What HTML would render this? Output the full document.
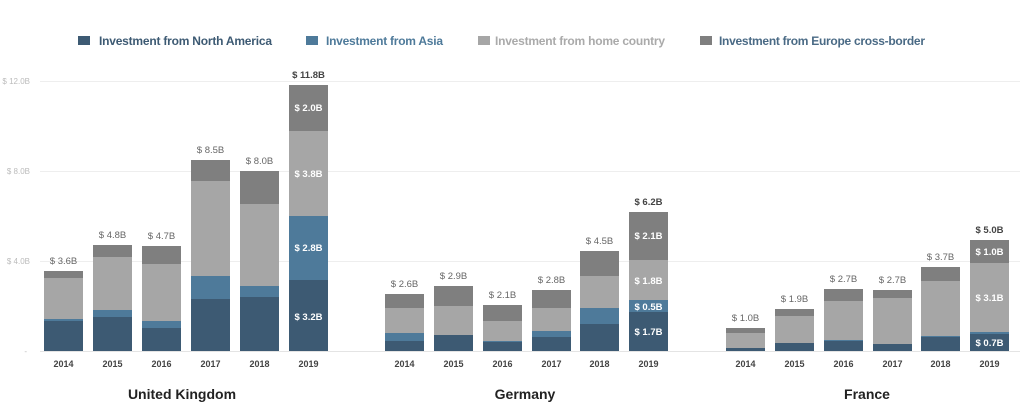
<!DOCTYPE html>
<html><head><meta charset="utf-8"><style>
html,body{margin:0;padding:0;background:#fff;}
svg{display:block;font-family:"Liberation Sans",sans-serif;}
.yl{font-size:8px;fill:#bbb;text-anchor:end}
.tot{font-size:9.5px;fill:#666;text-anchor:middle}
.in{font-size:9.5px;fill:#fff;font-weight:bold;text-anchor:middle}
.yr{font-size:9px;fill:#444;font-weight:bold;text-anchor:middle}
.ct{font-size:14px;fill:#222;font-weight:bold;text-anchor:middle}
.lg{font-size:12px;font-weight:bold}
.na{fill:#3d5a73}.as{fill:#4e7a9a}.hm{fill:#a6a6a6}.eu{fill:#7f7f7f}
</style></head><body>
<svg width="1024" height="412" viewBox="0 0 1024 412">
<!-- legend -->
<rect x="78" y="36" width="12" height="9" class="na"/><text x="99" y="45" class="lg" fill="#3d5a73" textLength="173">Investment from North America</text>
<rect x="306" y="36" width="12" height="9" class="as"/><text x="326" y="45" class="lg" fill="#4e7a9a" textLength="117">Investment from Asia</text>
<rect x="478" y="36" width="12" height="9" class="hm"/><text x="495" y="45" class="lg" fill="#aaaaaa" textLength="170">Investment from home country</text>
<rect x="700" y="36" width="12" height="9" class="eu"/><text x="719" y="45" class="lg" fill="#4a6a85" textLength="206">Investment from Europe cross-border</text>
<!-- grid -->
<g stroke="#eeeeee" stroke-width="1">
<line x1="40" y1="81.5" x2="1020" y2="81.5"/><line x1="40" y1="171.5" x2="1020" y2="171.5"/><line x1="40" y1="261.5" x2="1020" y2="261.5"/>
</g>
<line x1="40" y1="351.5" x2="1020" y2="351.5" stroke="#e4e4e4"/>
<text class="yl" x="30" y="84">$ 12.0B</text><text class="yl" x="30" y="174">$ 8.0B</text><text class="yl" x="30" y="264">$ 4.0B</text><text class="yl" x="27" y="354">-</text>

<!-- UK -->
<g>
<rect x="44" y="271" width="39" height="7" class="eu"/><rect x="44" y="278" width="39" height="41" class="hm"/><rect x="44" y="319" width="39" height="2" class="as"/><rect x="44" y="321" width="39" height="30" class="na"/>
<rect x="93" y="245" width="39" height="12" class="eu"/><rect x="93" y="257" width="39" height="53" class="hm"/><rect x="93" y="310" width="39" height="7" class="as"/><rect x="93" y="317" width="39" height="34" class="na"/>
<rect x="142" y="246" width="39" height="18" class="eu"/><rect x="142" y="264" width="39" height="57" class="hm"/><rect x="142" y="321" width="39" height="7" class="as"/><rect x="142" y="328" width="39" height="23" class="na"/>
<rect x="191" y="160" width="39" height="21" class="eu"/><rect x="191" y="181" width="39" height="95" class="hm"/><rect x="191" y="276" width="39" height="23" class="as"/><rect x="191" y="299" width="39" height="52" class="na"/>
<rect x="240" y="171" width="39" height="33" class="eu"/><rect x="240" y="204" width="39" height="82" class="hm"/><rect x="240" y="286" width="39" height="11" class="as"/><rect x="240" y="297" width="39" height="54" class="na"/>
<rect x="289" y="85" width="39" height="46" class="eu"/><rect x="289" y="131" width="39" height="85" class="hm"/><rect x="289" y="216" width="39" height="64" class="as"/><rect x="289" y="280" width="39" height="71" class="na"/>
<text class="tot" x="63.5" y="264">$ 3.6B</text><text class="tot" x="112.5" y="238">$ 4.8B</text><text class="tot" x="161.5" y="239">$ 4.7B</text><text class="tot" x="210.5" y="153">$ 8.5B</text><text class="tot" x="259.5" y="164">$ 8.0B</text><text class="tot" x="308.5" y="78" style="font-weight:bold;fill:#444">$ 11.8B</text>
<text class="in" x="308.5" y="111">$ 2.0B</text><text class="in" x="308.5" y="177">$ 3.8B</text><text class="in" x="308.5" y="251">$ 2.8B</text><text class="in" x="308.5" y="320">$ 3.2B</text>
</g>
<!-- Germany -->
<g>
<rect x="385" y="294" width="39" height="14" class="eu"/><rect x="385" y="308" width="39" height="25" class="hm"/><rect x="385" y="333" width="39" height="8" class="as"/><rect x="385" y="341" width="39" height="10" class="na"/>
<rect x="434" y="286" width="39" height="20" class="eu"/><rect x="434" y="306" width="39" height="29" class="hm"/><rect x="434" y="335" width="39" height="16" class="na"/>
<rect x="483" y="305" width="39" height="16" class="eu"/><rect x="483" y="321" width="39" height="20" class="hm"/><rect x="483" y="341" width="39" height="1" class="as"/><rect x="483" y="342" width="39" height="9" class="na"/>
<rect x="532" y="290" width="39" height="18" class="eu"/><rect x="532" y="308" width="39" height="23" class="hm"/><rect x="532" y="331" width="39" height="6" class="as"/><rect x="532" y="337" width="39" height="14" class="na"/>
<rect x="580" y="251" width="39" height="25" class="eu"/><rect x="580" y="276" width="39" height="32" class="hm"/><rect x="580" y="308" width="39" height="16" class="as"/><rect x="580" y="324" width="39" height="27" class="na"/>
<rect x="629" y="212" width="39" height="48" class="eu"/><rect x="629" y="260" width="39" height="40" class="hm"/><rect x="629" y="300" width="39" height="12" class="as"/><rect x="629" y="312" width="39" height="39" class="na"/>
<text class="tot" x="404.5" y="287">$ 2.6B</text><text class="tot" x="453.5" y="279">$ 2.9B</text><text class="tot" x="502.5" y="298">$ 2.1B</text><text class="tot" x="551.5" y="283">$ 2.8B</text><text class="tot" x="599.5" y="244">$ 4.5B</text><text class="tot" x="648.5" y="205" style="font-weight:bold;fill:#444">$ 6.2B</text>
<text class="in" x="648.5" y="239">$ 2.1B</text><text class="in" x="648.5" y="284">$ 1.8B</text><text class="in" x="648.5" y="310">$ 0.5B</text><text class="in" x="648.5" y="335">$ 1.7B</text>
</g>
<!-- France -->
<g>
<rect x="726" y="328" width="39" height="5" class="eu"/><rect x="726" y="333" width="39" height="15" class="hm"/><rect x="726" y="348" width="39" height="3" class="na"/>
<rect x="775" y="309" width="39" height="7" class="eu"/><rect x="775" y="316" width="39" height="27" class="hm"/><rect x="775" y="343" width="39" height="8" class="na"/>
<rect x="824" y="289" width="39" height="12" class="eu"/><rect x="824" y="301" width="39" height="39" class="hm"/><rect x="824" y="340" width="39" height="1" class="as"/><rect x="824" y="341" width="39" height="10" class="na"/>
<rect x="873" y="290" width="39" height="8" class="eu"/><rect x="873" y="298" width="39" height="46" class="hm"/><rect x="873" y="344" width="39" height="7" class="na"/>
<rect x="921" y="267" width="39" height="14" class="eu"/><rect x="921" y="281" width="39" height="55" class="hm"/><rect x="921" y="336" width="39" height="1" class="as"/><rect x="921" y="337" width="39" height="14" class="na"/>
<rect x="970" y="240" width="39" height="23" class="eu"/><rect x="970" y="263" width="39" height="69" class="hm"/><rect x="970" y="332" width="39" height="2" class="as"/><rect x="970" y="334" width="39" height="17" class="na"/>
<text class="tot" x="745.5" y="321">$ 1.0B</text><text class="tot" x="794.5" y="302">$ 1.9B</text><text class="tot" x="843.5" y="282">$ 2.7B</text><text class="tot" x="892.5" y="283">$ 2.7B</text><text class="tot" x="940.5" y="260">$ 3.7B</text><text class="tot" x="989.5" y="233" style="font-weight:bold;fill:#444">$ 5.0B</text>
<text class="in" x="989.5" y="255">$ 1.0B</text><text class="in" x="989.5" y="301">$ 3.1B</text><text class="in" x="989.5" y="346">$ 0.7B</text>
</g>
<!-- years -->
<g>
<text class="yr" x="63.5" y="367">2014</text><text class="yr" x="112.5" y="367">2015</text><text class="yr" x="161.5" y="367">2016</text><text class="yr" x="210.5" y="367">2017</text><text class="yr" x="259.5" y="367">2018</text><text class="yr" x="308.5" y="367">2019</text>
<text class="yr" x="404.5" y="367">2014</text><text class="yr" x="453.5" y="367">2015</text><text class="yr" x="502.5" y="367">2016</text><text class="yr" x="551.5" y="367">2017</text><text class="yr" x="599.5" y="367">2018</text><text class="yr" x="648.5" y="367">2019</text>
<text class="yr" x="745.5" y="367">2014</text><text class="yr" x="794.5" y="367">2015</text><text class="yr" x="843.5" y="367">2016</text><text class="yr" x="892.5" y="367">2017</text><text class="yr" x="940.5" y="367">2018</text><text class="yr" x="989.5" y="367">2019</text>
</g>
<text class="ct" x="182" y="399">United Kingdom</text>
<text class="ct" x="525" y="399">Germany</text>
<text class="ct" x="867" y="399">France</text>
</svg>
</body></html>
